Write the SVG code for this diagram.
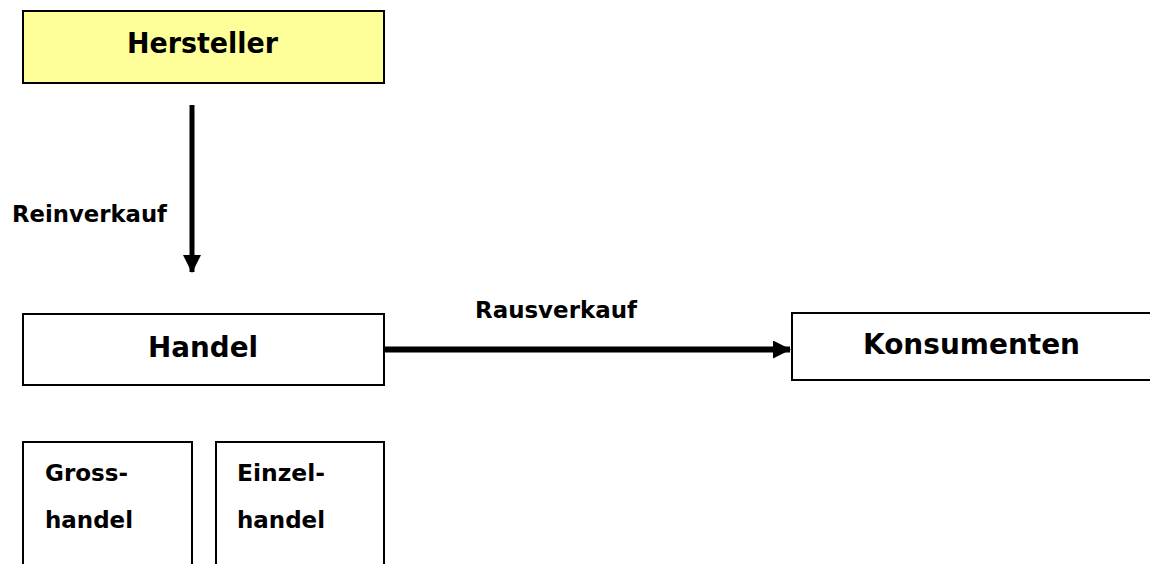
<svg xmlns="http://www.w3.org/2000/svg" width="1150" height="564" viewBox="0 0 1150 564">
<style>
.box{fill:#fff;stroke:#000;stroke-width:2}
.t{font-family:"DejaVu Sans",Verdana,sans-serif;font-weight:bold;fill:#000}
.big{font-size:28px}
.sm{font-size:23px}
.conn{stroke:#000;fill:none}
</style>
<defs>
<marker id="ah" markerUnits="userSpaceOnUse" markerWidth="18" markerHeight="18" refX="17" refY="9" orient="auto" viewBox="0 0 18 18">
<path d="M0,0 L18,9 L0,18 Z" fill="#000"/>
</marker>
</defs>
<rect width="1150" height="564" fill="#fff"/>
<g id="hersteller">
<rect class="box" x="23" y="11" width="361" height="72" style="fill:#ffff99"/>
<text class="t big" x="127" y="53" textLength="151" lengthAdjust="spacingAndGlyphs">Hersteller</text>
</g>
<g id="handel">
<rect class="box" x="23" y="314" width="361" height="71"/>
<text class="t big" x="148" y="357" textLength="110" lengthAdjust="spacingAndGlyphs">Handel</text>
</g>
<g id="konsumenten">
<rect class="box" x="792" y="313" width="370" height="67"/>
<text class="t big" x="863" y="354" textLength="217" lengthAdjust="spacingAndGlyphs">Konsumenten</text>
</g>
<g id="grosshandel">
<rect class="box" x="23" y="442" width="169" height="130"/>
<text class="t sm" x="45" y="481" textLength="83" lengthAdjust="spacingAndGlyphs">Gross-</text>
<text class="t sm" x="45" y="528" textLength="88" lengthAdjust="spacingAndGlyphs">handel</text>
</g>
<g id="einzelhandel">
<rect class="box" x="216" y="442" width="168" height="130"/>
<text class="t sm" x="237" y="481" textLength="88" lengthAdjust="spacingAndGlyphs">Einzel-</text>
<text class="t sm" x="237" y="528" textLength="88" lengthAdjust="spacingAndGlyphs">handel</text>
</g>
<g id="connectors">
<line class="conn" x1="192" y1="105" x2="192" y2="272" stroke-width="5" marker-end="url(#ah)"/>
<text class="t sm" x="12" y="222" textLength="155" lengthAdjust="spacingAndGlyphs">Reinverkauf</text>
<line class="conn" x1="385" y1="349.5" x2="790" y2="349.5" stroke-width="6" marker-end="url(#ah)"/>
<text class="t sm" x="475" y="318" textLength="162" lengthAdjust="spacingAndGlyphs">Rausverkauf</text>
</g>
</svg>
